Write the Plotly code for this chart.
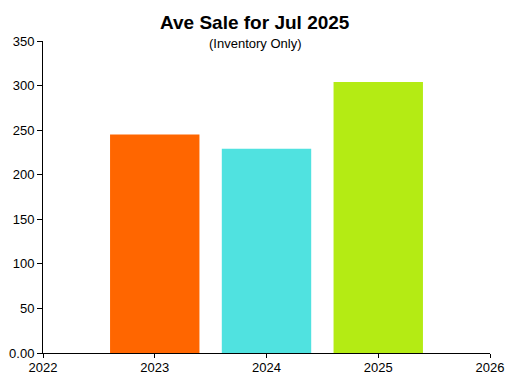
import plotly.graph_objects as go

years = [2023, 2024, 2025]
ave_sale = [245, 229, 304]
bar_colors = ["#FF6600", "#50E2E0", "#B4EB14"]

y_tickvals = [0, 50, 100, 150, 200, 250, 300, 350]
y_ticktext = ["0.00", "50", "100", "150", "200", "250", "300", "350"]
x_tickvals = [2022, 2023, 2024, 2025, 2026]

title_text = "Ave Sale for Jul 2025"
subtitle_text = "(Inventory Only)"

fig = go.Figure(
    go.Bar(x=years, y=ave_sale, width=0.8, marker=dict(color=bar_colors, line=dict(width=0)))
)

font_family = "Liberation Sans, Arial, sans-serif"

L, R, T, B = 43, 20, 41, 29
W, H = 510, 382
plot_h = H - T - B
plot_w = W - L - R

fig.update_layout(
    width=W,
    height=H,
    margin=dict(l=L, r=R, t=T, b=B, autoexpand=False),
    paper_bgcolor="white",
    plot_bgcolor="white",
    showlegend=False,
    font=dict(family=font_family, size=12, color="black"),
    annotations=[
        dict(text="<b>" + title_text + "</b>", x=(255 - L) / plot_w, xref="paper", xanchor="center",
             y=1 + (T - 22) / plot_h, yref="paper", yanchor="middle", showarrow=False,
             font=dict(size=19, family=font_family)),
        dict(text=subtitle_text, x=(255 - L) / plot_w, xref="paper", xanchor="center",
             y=1 + (T - 44) / plot_h, yref="paper", yanchor="middle", showarrow=False,
             font=dict(size=13, family=font_family)),
    ],
)

fig.update_xaxes(
    range=[2022, 2026],
    tickvals=x_tickvals,
    ticktext=[str(v) for v in x_tickvals],
    showline=True, linecolor="black", linewidth=1,
    ticks="outside", ticklen=4, tickcolor="black", tickwidth=1,
    showgrid=False, zeroline=False,
    tickfont=dict(size=13),
    ticklabelstandoff=-2,
    automargin=False,
)
fig.update_yaxes(
    range=[0, 350],
    tickvals=y_tickvals,
    ticktext=y_ticktext,
    showline=True, linecolor="black", linewidth=1,
    ticks="outside", ticklen=5, tickcolor="black", tickwidth=1,
    showgrid=False, zeroline=False,
    tickfont=dict(size=13),
    automargin=False,
)

fig.write_html("out.html")
